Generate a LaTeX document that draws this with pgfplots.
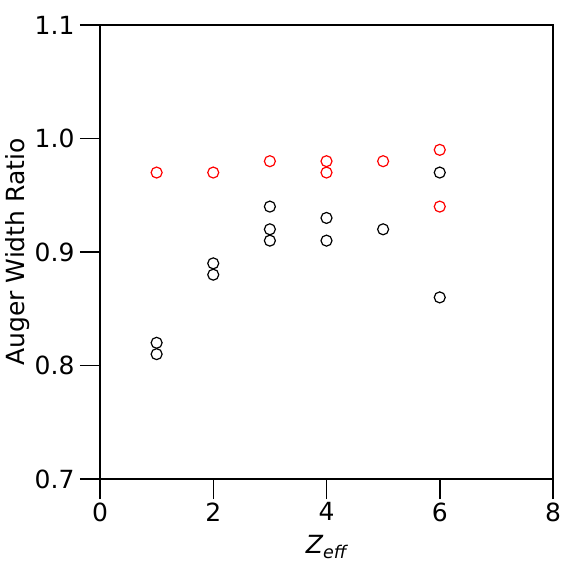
\documentclass[border=0pt]{standalone}
\usepackage{fontspec}
\setmainfont{DejaVu Sans}
\usepackage{pgfplots}
\pgfplotsset{compat=1.18}

\begin{document}
\begin{tikzpicture}
\begin{axis}[
  scale only axis, width=453pt, height=454pt,
  xmin=0, xmax=8, ymin=0.7, ymax=1.1,
  xtick={0,2,4,6,8}, ytick={0.7,0.8,0.9,1.0,1.1},
  xtick pos=bottom, ytick pos=left, tick align=outside,
  major tick length=20pt,
  tick style={line width=1.5pt, black},
  axis line style={line width=1.5pt},
  /pgf/number format/assume math mode=true,
  yticklabel style={/pgf/number format/fixed, /pgf/number format/fixed zerofill, /pgf/number format/precision=1, xshift=-2pt},
  tick label style={font=\fontsize{25}{30}\selectfont},
  label style={font=\fontsize{25}{30}\selectfont},
  xlabel={\itshape Z\textsubscript{eff}},
  ylabel={Auger Width Ratio},
  xlabel style={at={(axis description cs:0.5,0)}, anchor=center, yshift=-68pt},
  ylabel style={at={(axis description cs:0,0.5)}, anchor=center, yshift=82pt},
]
\addplot[only marks, mark=o, mark size=5.5pt, mark options={line width=1.2pt, draw=black}] coordinates {
  (1,0.82) (1,0.81) (2,0.89) (2,0.88) (3,0.94) (3,0.92) (3,0.91)
  (4,0.93) (4,0.91) (5,0.92) (6,0.97) (6,0.86)};
\addplot[only marks, mark=o, mark size=5.5pt, mark options={line width=1.2pt, draw=red}] coordinates {
  (1,0.97) (2,0.97) (3,0.98) (4,0.98) (4,0.97) (5,0.98) (6,0.99) (6,0.94)};
\coordinate (ll) at (rel axis cs:0,0);
\coordinate (ur) at (rel axis cs:1,1);
\end{axis}
\pgfresetboundingbox
\path ([shift={(-100pt,-84pt)}]ll) rectangle ([shift={(29pt,25pt)}]ur);
\end{tikzpicture}
\end{document}
